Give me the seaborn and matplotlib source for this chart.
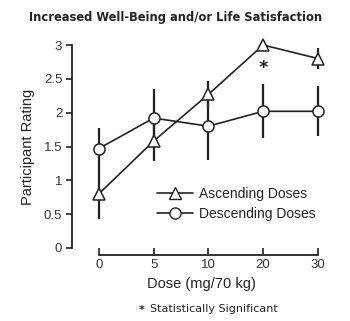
import matplotlib
matplotlib.use("Agg")
import matplotlib.pyplot as plt
from matplotlib.lines import Line2D
import seaborn as sns
import pandas as pd
import numpy as np

doses = ["0", "5", "10", "20", "30"]
ascending = [0.80, 1.58, 2.27, 3.00, 2.80]
ascending_err = [0.37, 0.30, 0.20, 0.0, 0.15]
descending = [1.47, 1.92, 1.80, 2.02, 2.02]
descending_err = [0.30, 0.43, 0.50, 0.40, 0.37]
series_names = ["Ascending Doses", "Descending Doses"]
y_ticks = [0, 0.5, 1, 1.5, 2, 2.5, 3]
y_ticklabels = ["0", "0.5", "1", "1.5", "2", "2.5", "3"]

sns.set_theme(style="ticks")
plt.rcParams["font.family"] = ["Liberation Sans", "DejaVu Sans"]

df = pd.DataFrame({
    "Dose": doses * 2,
    "Rating": ascending + descending,
    "Series": [series_names[0]] * len(doses) + [series_names[1]] * len(doses),
})

fig = plt.figure(figsize=(3.5, 3.21), dpi=100)
ax = fig.add_axes([72/350, 1 - 248/321, (330-72)/350, (248-45)/321])

# error bars (behind markers)
xpos = np.arange(len(doses))
ax.errorbar(xpos, ascending, yerr=ascending_err, fmt="none", ecolor="#222222",
            elinewidth=1.6, capsize=0, zorder=1)
ax.errorbar(xpos, descending, yerr=descending_err, fmt="none", ecolor="#222222",
            elinewidth=1.6, capsize=0, zorder=1)

sns.pointplot(data=df, x="Dose", y="Rating", hue="Series", order=doses,
              hue_order=series_names, markers=["^", "o"], linestyles=["-", "-"],
              palette=["#222222", "#222222"], errorbar=None, dodge=False,
              ax=ax, legend=False)

for ln in ax.lines:
    if ln.get_marker() in ("^", "o"):
        ln.set_markerfacecolor("white")
        ln.set_markeredgecolor("#222222")
        ln.set_markersize(8)
        ln.set_markeredgewidth(1.1)
        ln.set_linewidth(1.2)
        ln.set_zorder(3)
        ln.set_clip_on(False)
for coll in ax.collections:
    coll.set_facecolor("white")
    coll.set_edgecolor("#222222")
    coll.set_zorder(3)
    coll.set_clip_on(False)

ax.set_xlim(-0.49, 4.22)
ax.set_ylim(0, 3)
ax.set_yticks(y_ticks)
ax.set_yticklabels(y_ticklabels)
ax.set_xticks(xpos)
ax.set_xticklabels(doses)

for s in ["top", "right"]:
    ax.spines[s].set_visible(False)
ax.spines["left"].set_bounds(0, 3)
ax.spines["bottom"].set_bounds(0, 4)
ax.spines["bottom"].set_position(("outward", 5))
for s in ["left", "bottom"]:
    ax.spines[s].set_linewidth(1.3)
    ax.spines[s].set_color("#222222")

ax.tick_params(axis="y", direction="out", length=4, width=1.2, color="#222222",
               labelsize=9.5, labelcolor="#333333", pad=3)
ax.tick_params(axis="x", direction="in", length=5, width=1.2, color="#222222",
               labelsize=9.5, labelcolor="#333333", pad=3)

ax.set_xlabel("Dose (mg/70 kg)", fontsize=10.5, color="#222222", labelpad=4)
ax.set_ylabel("Participant Rating", fontsize=10.5, color="#222222", labelpad=6)

ax.text(3, 2.66, "*", ha="center", va="center", fontsize=13, color="#222222",
        fontweight="bold", family=["DejaVu Sans"])

handles = [
    Line2D([0], [0], color="#222222", lw=1.2, marker="^", markersize=8,
           markerfacecolor="white", markeredgecolor="#222222"),
    Line2D([0], [0], color="#222222", lw=1.2, marker="o", markersize=8,
           markerfacecolor="white", markeredgecolor="#222222"),
]
fig.legend(handles, series_names, loc="upper left",
           bbox_to_anchor=(157/350, 1 - 187/321), frameon=False,
           fontsize=10, handlelength=2.6, handletextpad=0.4, borderpad=0,
           borderaxespad=0, labelspacing=0.45, labelcolor="#222222")

fig.text(176/350, 1 - 17/321, "Increased Well-Being and/or Life Satisfaction",
         ha="center", va="center", fontsize=8.3, fontweight="bold",
         color="#222222", family=["DejaVu Sans"])
fig.text(142/350, 1 - 310/321, "*", ha="center", va="center", fontsize=8,
         fontweight="bold", color="#222222", family=["DejaVu Sans"])
fig.text(150/350, 1 - 309/321, "Statistically Significant", ha="left",
         va="center", fontsize=8, color="#222222", family=["DejaVu Sans"])

fig.savefig("out.png", dpi=100)
